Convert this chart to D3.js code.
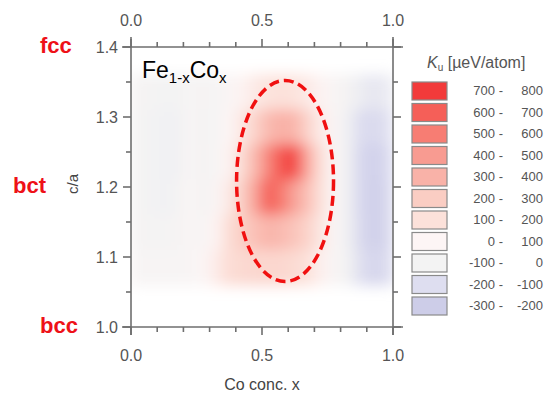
<!DOCTYPE html>
<html>
<head>
<meta charset="utf-8">
<script src="https://cdn.jsdelivr.net/npm/d3@7"></script>
<style>
  body { margin:0; background:#fff; }
  text { font-family: "Liberation Sans", Arial, sans-serif; }
</style>
</head>
<body>
<script>
var width = 548, height = 398;

// Ku values (ueV/atom); rows from c/a 1.335 (top) to 1.085 (bottom)
var xCenters = [0.025,0.075,0.125,0.175,0.225,0.275,0.325,0.375,0.425,0.475,
                0.525,0.575,0.625,0.675,0.725,0.775,0.825,0.875,0.925,0.975];
var caCenters = [1.335,1.285,1.235,1.185,1.135,1.085];
var kuGrid = [
  [-30,-40,-50,-50,-20,-30,-20, 10, 60,110,140,150,140,110, 60,  0,-40, -80,-110, -90],
  [-40,-50,-60,-60,-10,-40,-20, 40,120,220,320,360,340,220,100, 10,-60,-150,-180,-140],
  [-40,-50,-60,-60,  0,-40,-10, 60,180,330,520,680,720,400,160, 20,-60,-180,-230,-180],
  [-40,-50,-60,-50, 10,-30, 10,110,240,420,650,560,420,300,150, 20,-60,-180,-240,-190],
  [-30,-40,-40,-30, 10,-10, 60,170,240,300,340,320,280,220,120, 10,-60,-170,-240,-190],
  [-10,-10,-10,-10,  0, 30,100,170,190,200,200,200,180,150, 80,  0,-50,-140,-200,-170]
];

// legend bins
var legendLabels = [["700 -","800"],["600 -","700"],["500 -","600"],["400 -","500"],["300 -","400"],
  ["200 -","300"],["100 -","200"],["0 -","100"],["-100 -","0"],["-200 -","-100"],["-300 -","-200"]];
var legendColors = ["#f23a3a","#f55f58","#f77d73","#f89b91","#f9b2a8","#facdc3","#fce1da",
  "#fdf5f5","#f3f3f3","#dedef0","#cdcde8"];
var binMids = [750,650,550,450,350,250,150,50,-50,-150,-250];

var xMajor = [0, 0.5, 1.0];
var xMinor = d3.range(0, 1.0001, 0.1);
var yMajor = [1.0, 1.1, 1.2, 1.3, 1.4];
var yMinor = d3.range(1.0, 1.4001, 0.05);

var phases = [["fcc",1.4,40],["bct",1.2,13],["bcc",1.0,40]];

var svg = d3.select("body").append("svg")
  .attr("width", width).attr("height", height);

var x = d3.scaleLinear().domain([0,1]).range([131,393]);
var y = d3.scaleLinear().domain([1.0,1.4]).range([327,47]);

var color = d3.scaleLinear().domain(binMids).range(legendColors).clamp(true);

var defs = svg.append("defs");
defs.append("filter").attr("id","blur")
  .attr("x","-10%").attr("y","-10%").attr("width","120%").attr("height","120%")
  .append("feGaussianBlur").attr("stdDeviation", 7);
defs.append("clipPath").attr("id","plotclip")
  .append("rect").attr("x", x(0)).attr("y", y(1.4)).attr("width", x(1)-x(0)).attr("height", y(1.0)-y(1.4));

// heat map
var cells = [];
kuGrid.forEach(function(row, r){
  row.forEach(function(v, c){ cells.push({x:xCenters[c], ca:caCenters[r], v:v}); });
});
var hm = svg.append("g").attr("clip-path","url(#plotclip)")
  .append("g").attr("filter","url(#blur)");
var dx = 0.05, dy = 0.05;
hm.selectAll("rect").data(cells).enter().append("rect")
  .attr("x", function(d){ return x(d.x - dx/2) - 0.5; })
  .attr("y", function(d){ return y(d.ca + dy/2) - 0.5; })
  .attr("width", x(dx) - x(0) + 1)
  .attr("height", y(1.0) - y(1.0 + dy) + 1)
  .attr("fill", function(d){ return color(d.v); });

// axes
var axisColor = "#6e6e6e", labColor = "#555";
var ax = svg.append("g").attr("stroke", axisColor).attr("stroke-width", 1.6);
ax.append("line").attr("x1", x(0)-9).attr("x2", x(1)+10).attr("y1", y(1.0)).attr("y2", y(1.0));
ax.append("line").attr("x1", x(0)-9).attr("x2", x(1)+10).attr("y1", y(1.4)).attr("y2", y(1.4));
ax.append("line").attr("x1", x(0)).attr("x2", x(0)).attr("y1", y(1.4)-10).attr("y2", y(1.0)+8);
ax.append("line").attr("x1", x(1)).attr("x2", x(1)).attr("y1", y(1.4)-10).attr("y2", y(1.0)+8);

function isMajor(v, arr){ return arr.some(function(m){ return Math.abs(m-v) < 1e-6; }); }

xMinor.forEach(function(v){
  var L = isMajor(v, xMajor) ? 8 : 5;
  ax.append("line").attr("x1", x(v)).attr("x2", x(v)).attr("y1", y(1.0)).attr("y2", y(1.0)+L);
  ax.append("line").attr("x1", x(v)).attr("x2", x(v)).attr("y1", y(1.4)).attr("y2", y(1.4)-L);
});
yMinor.forEach(function(v){
  var L = isMajor(v, yMajor) ? 8 : 5;
  ax.append("line").attr("x1", x(0)).attr("x2", x(0)-L).attr("y1", y(v)).attr("y2", y(v));
  ax.append("line").attr("x1", x(1)).attr("x2", x(1)+L).attr("y1", y(v)).attr("y2", y(v));
});

var tl = svg.append("g").attr("fill", labColor).attr("font-size", 16);
xMajor.forEach(function(v){
  tl.append("text").attr("x", x(v)).attr("y", y(1.0)+34).attr("text-anchor","middle").text(d3.format(".1f")(v));
  tl.append("text").attr("x", x(v)).attr("y", y(1.4)-21).attr("text-anchor","middle").text(d3.format(".1f")(v));
});
yMajor.forEach(function(v){
  tl.append("text").attr("x", x(0)-13).attr("y", y(v)+6).attr("text-anchor","end").text(d3.format(".1f")(v));
});

svg.append("text").attr("x", x(0.5)).attr("y", 390).attr("text-anchor","middle")
  .attr("fill", "#444").attr("font-size", 16).text("Co conc. x");
svg.append("text").attr("transform","translate(78," + (y(1.2) - 3) + ") rotate(-90)")
  .attr("text-anchor","middle").attr("fill", "#444").attr("font-size", 15).text("c/a");

// phase labels
svg.selectAll(".phase").data(phases).enter().append("text")
  .attr("x", function(d){ return d[2]; }).attr("y", function(d){ return y(d[1]) + 6; })
  .attr("fill", "#ee1118").attr("font-weight","bold").attr("font-size", 22)
  .text(function(d){ return d[0]; });

// compound label
var comp = svg.append("text").attr("x", 142).attr("y", 78).attr("fill","#000").attr("font-size", 23);
comp.append("tspan").text("Fe");
comp.append("tspan").attr("font-size", 15).attr("dy", 5).text("1-x");
comp.append("tspan").attr("dy", -5).text("Co");
comp.append("tspan").attr("font-size", 15).attr("dy", 5).text("x");

// dashed ellipse
svg.append("ellipse")
  .attr("cx", x(0.588)).attr("cy", y(1.2086))
  .attr("rx", x(0.185) - x(0)).attr("ry", y(1.0) - y(1.1436))
  .attr("fill","none").attr("stroke","#f01010").attr("stroke-width", 3.5)
  .attr("stroke-dasharray","10,5");

// legend
var lt = svg.append("text").attr("x", 427).attr("y", 68).attr("fill", labColor).attr("font-size", 16);
lt.append("tspan").attr("font-style","italic").text("K");
lt.append("tspan").attr("font-size", 10).attr("dy", 3).text("u");
lt.append("tspan").attr("dy", -3).text(" [\u00b5eV/atom]");

var lg = svg.append("g").selectAll("g").data(legendColors).enter().append("g")
  .attr("transform", function(d, i){ return "translate(412," + (82 + i*21.5) + ")"; });
lg.append("rect").attr("width", 35).attr("height", 18)
  .attr("fill", function(d){ return d; }).attr("stroke", "#8a8a8a").attr("stroke-width", 1.2);
lg.append("text").attr("x", 91).attr("y", 13).attr("text-anchor","end")
  .attr("fill", labColor).attr("font-size", 13).text(function(d,i){ return legendLabels[i][0]; });
lg.append("text").attr("x", 131).attr("y", 13).attr("text-anchor","end")
  .attr("fill", labColor).attr("font-size", 13).text(function(d,i){ return legendLabels[i][1]; });
</script>
</body>
</html>
